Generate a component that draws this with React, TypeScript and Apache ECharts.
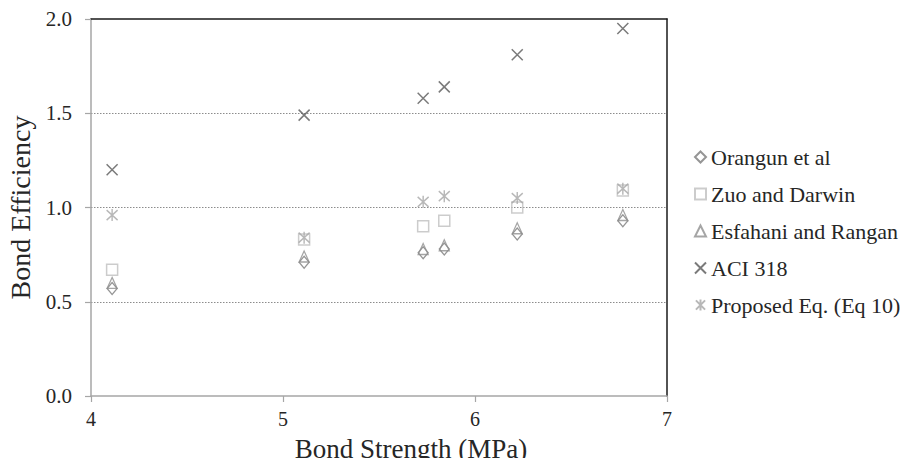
import React, { useEffect, useRef } from "react";
import * as echarts from "echarts";

const bondStrength = [4.11, 5.11, 5.73, 5.84, 6.22, 6.77];
const orangun = [0.57, 0.71, 0.76, 0.78, 0.86, 0.93];
const zuoDarwin = [0.67, 0.83, 0.9, 0.93, 1.0, 1.09];
const esfahani = [0.6, 0.74, 0.78, 0.8, 0.89, 0.96];
const aci318 = [1.2, 1.49, 1.58, 1.64, 1.81, 1.95];
const proposed = [0.96, 0.84, 1.03, 1.06, 1.05, 1.1];

const seriesNames = [
  "Orangun et al",
  "Zuo and Darwin",
  "Esfahani and Rangan",
  "ACI 318",
  "Proposed Eq. (Eq 10)",
];

const FONT = "Liberation Serif";

const X_PATH = "path://M0,0L10,10M10,0L0,10";
const STAR_PATH = "path://M0,0L10,10M10,0L0,10M5,-1L5,11";

function pairs(ys: number[]) {
  return bondStrength.map((x, i) => [x, ys[i]]);
}

export default function App() {
  const ref = useRef<HTMLDivElement>(null);
  useEffect(() => {
    if (!ref.current) return;
    const chart = echarts.init(ref.current, undefined, { renderer: "svg" });
    const mk = (
      name: string,
      data: number[],
      symbol: string,
      size: number | number[],
      color: string,
      bw = 1.3
    ) => ({
      name,
      type: "scatter",
      data: pairs(data),
      symbol,
      symbolSize: size,
      itemStyle: { color: "rgba(0,0,0,0)", borderColor: color, borderWidth: bw },
      emphasis: { disabled: true },
    });
    chart.setOption({
      animation: false,
      textStyle: { fontFamily: FONT },
      grid: {
        left: 91,
        top: 19,
        right: 251,
        bottom: 70,
        containLabel: false,
        outerBoundsMode: "none",
      },
      legend: {
        orient: "vertical",
        left: 694,
        top: 146,
        padding: 0,
        itemWidth: 11,
        itemHeight: 11,
        itemGap: 15,
        textStyle: { fontFamily: FONT, fontSize: 22, color: "#262626" },
        data: seriesNames,
      },
      xAxis: [
        {
          type: "value",
          min: 4,
          max: 7,
          interval: 1,
          name: "Bond Strength (MPa)",
          nameLocation: "middle",
          nameGap: 39,
          nameTextStyle: {
            fontFamily: FONT,
            fontSize: 27,
            color: "#262626",
            padding: [0, 0, 0, 64],
          },
          axisLine: { show: true, onZero: false, lineStyle: { color: "#a6a6a6", width: 1.5 } },
          axisTick: { length: 6, lineStyle: { color: "#a6a6a6", width: 1.2 } },
          axisLabel: { fontFamily: FONT, fontSize: 20, color: "#262626", margin: 13 },
          splitLine: { show: false },
        },
        {
          type: "value",
          position: "top",
          min: 4,
          max: 7,
          axisLine: { show: true, onZero: false, lineStyle: { color: "#1a1a1a", width: 1.5 } },
          axisTick: { show: false },
          axisLabel: { show: false },
          splitLine: { show: false },
        },
      ],
      yAxis: [
        {
          type: "value",
          min: 0,
          max: 2,
          interval: 0.5,
          name: "Bond Efficiency",
          nameLocation: "middle",
          nameGap: 55,
          nameTextStyle: { fontFamily: FONT, fontSize: 28, color: "#262626" },
          axisLine: { show: true, onZero: false, lineStyle: { color: "#a6a6a6", width: 1.5 } },
          axisTick: { show: true, length: 6, lineStyle: { color: "#a6a6a6", width: 1.2 } },
          axisLabel: {
            fontFamily: FONT,
            fontSize: 21,
            color: "#262626",
            margin: 19,
            formatter: (v: number) => v.toFixed(1),
          },
          splitLine: {
            show: true,
            showMinLine: false,
            showMaxLine: false,
            lineStyle: { color: "#8c8c8c", type: [1.5, 1.5], width: 1 },
          },
        },
        {
          type: "value",
          position: "right",
          min: 0,
          max: 2,
          axisLine: { show: true, onZero: false, lineStyle: { color: "#1a1a1a", width: 1.5 } },
          axisTick: { show: false },
          axisLabel: { show: false },
          splitLine: { show: false },
        },
      ],
      series: [
        mk(seriesNames[0], orangun, "diamond", [10, 12], "#7a7a7a"),
        mk(seriesNames[1], zuoDarwin, "rect", [11, 11], "#bfbfbf", 1.5),
        mk(seriesNames[2], esfahani, "triangle", [10, 11], "#8f8f8f"),
        mk(seriesNames[3], aci318, X_PATH, [11, 11], "#595959", 1.5),
        mk(seriesNames[4], proposed, STAR_PATH, [11, 12], "#a6a6a6", 1.5),
      ],
    });
    return () => chart.dispose();
  }, []);
  return <div ref={ref} style={{ width: 918, height: 466, margin: -8 }} />;
}
